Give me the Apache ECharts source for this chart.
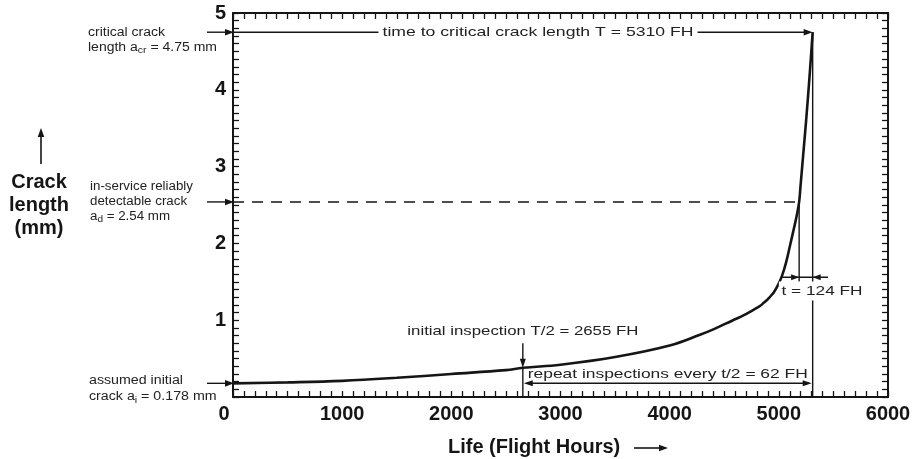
<!DOCTYPE html>
<html><head><meta charset="utf-8">
<script src="https://cdn.jsdelivr.net/npm/echarts@6/dist/echarts.min.js"></script>
<style>html,body{margin:0;padding:0;background:#fff}#c{width:916px;height:459px}</style>
</head><body><div id="c"></div>
<script>
// ---- data ----
const flightHours = [0, 500, 1000, 1500, 2000, 2500, 2655, 3000, 3500, 4000, 4278, 4400, 4580, 4680, 4763, 4827, 4864, 4892, 4910, 4928, 4956, 4992, 5029, 5066, 5102, 5139, 5165, 5186, 5200, 5220, 5250, 5280, 5310];
const crackLength = [0.178, 0.19, 0.21, 0.25, 0.30, 0.35, 0.38, 0.42, 0.52, 0.67, 0.81, 0.88, 1.0, 1.065, 1.131, 1.185, 1.229, 1.263, 1.29, 1.318, 1.368, 1.457, 1.577, 1.749, 1.97, 2.2, 2.37, 2.54, 2.77, 3.1, 3.6, 4.15, 4.75];
const xTickValues = [0, 1000, 2000, 3000, 4000, 5000, 6000];
const yTickValues = [1, 2, 3, 4, 5];
const criticalCrack = 4.75;      // a_cr
const detectableCrack = 2.54;    // a_d
const initialCrack = 0.178;      // a_i
const criticalTime = 5310;       // T
const initialInspection = 2655;  // T/2
const detectTime = 5186;         // T - t
const inspectionInterval = 124;  // t

const INK = '#151515';
const FONT = '"Liberation Sans", Arial, Helvetica, sans-serif';

const chart = echarts.init(document.getElementById('c'), null, {renderer: 'canvas'});

function xAxisDef(pos, showLabel) {
  return {
    type: 'value', position: pos, min: 0, max: 6000, interval: 1000,
    axisLine: {show: true, onZero: false, lineStyle: {color: INK, width: 2}},
    axisTick: {show: true, inside: true, length: 6, lineStyle: {color: INK, width: 1.3}},
    minorTick: {show: true, splitNumber: 10, length: 6, lineStyle: {color: INK, width: 1.3}},
    splitLine: {show: false}, minorSplitLine: {show: false},
    axisLabel: showLabel ? {
      show: true, color: INK, fontFamily: FONT, fontWeight: 'bold', fontSize: 20, margin: 7,
      formatter: v => v === 0 ? '{z|0}' : (xTickValues.indexOf(v) >= 0 ? String(v) : ''),
      rich: {z: {fontFamily: FONT, fontWeight: 'bold', fontSize: 20, color: INK, padding: [0, 18, 0, 0]}}
    } : {show: false}
  };
}
function yAxisDef(pos, showLabel) {
  return {
    type: 'value', position: pos, min: 0, max: 5, interval: 1,
    axisLine: {show: true, onZero: false, lineStyle: {color: INK, width: 2}},
    axisTick: {show: true, inside: true, length: 6, lineStyle: {color: INK, width: 1.3}},
    minorTick: {show: true, splitNumber: 10, length: 6, lineStyle: {color: INK, width: 1.3}},
    splitLine: {show: false}, minorSplitLine: {show: false},
    axisLabel: showLabel ? {
      show: true, color: INK, fontFamily: FONT, fontWeight: 'bold', fontSize: 20, margin: 7,
      formatter: v => yTickValues.indexOf(v) >= 0 ? String(v) : ''
    } : {show: false}
  };
}

chart.setOption({
  animation: false,
  backgroundColor: '#ffffff',
  grid: {left: 233, right: 28, top: 13, bottom: 62, containLabel: false},
  xAxis: [xAxisDef('bottom', true), xAxisDef('top', false)],
  yAxis: [yAxisDef('left', true), yAxisDef('right', false)],
  series: [{
    type: 'line', xAxisIndex: 0, yAxisIndex: 0,
    data: flightHours.map((h, i) => [h, crackLength[i]]),
    showSymbol: false, smooth: 0.4,
    lineStyle: {color: INK, width: 2.6}, z: 5
  }]
});

// ---- annotations, positioned through the chart's own scales ----
const P = (x, y) => chart.convertToPixel({seriesIndex: 0}, [x, y]);
const gx = v => P(v, 0)[0];
const gy = v => P(0, v)[1];

const mctx = document.createElement('canvas').getContext('2d');
function tw(s, size, weight) {
  mctx.font = (weight || 'normal') + ' ' + size + 'px "Liberation Sans"';
  return mctx.measureText(s).width;
}

function seg(x1, y1, x2, y2, w, dash) {
  return {type: 'line', silent: true, z: 50,
    shape: {x1, y1, x2, y2},
    style: {stroke: INK, lineWidth: w || 1.4, lineDash: dash || null}};
}
function head(x, y, dx, dy, L, W) {
  L = L || 9; W = W || 3.3;
  const bx = x - dx * L, by = y - dy * L, nx = -dy, ny = dx;
  return {type: 'polygon', silent: true, z: 51,
    shape: {points: [[x, y], [bx + nx * W, by + ny * W], [bx - nx * W, by - ny * W]]},
    style: {fill: INK}};
}
function txt(text, x, y, o) {
  o = o || {};
  return {type: 'text', silent: true, z: 60, x: x, y: y, scaleX: o.scaleX || 1,
    style: {
      text: text, fill: o.fill || '#222', fontFamily: FONT,
      fontSize: o.size || 12, fontWeight: o.weight || 'normal',
      align: o.align || 'left', verticalAlign: o.valign || 'middle',
      lineHeight: o.lh || 15,
      backgroundColor: o.bg || null, padding: o.pad || 0,
      rich: o.rich || {}
    }};
}

const x0 = gx(0), xT = gx(criticalTime), xD = gx(detectTime), xI = gx(initialInspection);
const yBase = gy(0);
const yCr = gy(criticalCrack), yDt = gy(detectableCrack), yIn = gy(initialCrack);
const curveAtI = crackLength[flightHours.indexOf(initialInspection)];
const yCurveI = gy(curveAtI);

const els = [];
// pointers from labels to the crack-length axis
[yCr, yDt, yIn].forEach(y => { els.push(seg(x0 - 26, y, x0 - 6, y)); els.push(head(x0 + 1, y, 1, 0)); });
// time to critical crack length
els.push(seg(x0, yCr, xT - 5, yCr));
els.push(head(xT, yCr, 1, 0));
// detectable crack dashed line
els.push(seg(x0, yDt, xD, yDt, 1.6, [11, 8]));
// vertical at T
els.push(seg(xT, yCr, xT, yBase));
// vertical at detection
els.push(seg(xD, yDt, xD, gy(1.5)));
// t interval arrows
const yt = gy(1.56);
els.push(seg(gx(5029), yt, gx(5450), yt));
els.push(head(xD, yt, 1, 0, 8, 3));
els.push(head(xT, yt, -1, 0, 8, 3));
// initial inspection arrow and line
els.push(seg(xI, gy(0.70), xI, yCurveI - 4));
els.push(head(xI, yCurveI, 0, 1, 9, 3));
els.push(seg(xI, yCurveI, xI, yBase));
// repeat inspection arrow
const yr = gy(0.18);
els.push(seg(xI + 4, yr, xT - 4, yr));
els.push(head(xI + 1, yr, -1, 0, 9, 3));
els.push(head(xT - 1, yr, 1, 0, 9, 3));

const sub = {s: {fontSize: 9, fontFamily: FONT, fill: '#222', verticalAlign: 'bottom'}};
// left labels
els.push(txt('critical crack\nlength a{s|cr} = 4.75 mm', 88, yCr - 7, {valign: 'top', lh: 15, rich: sub, scaleX: 77 / tw('critical crack', 12)}));
els.push(txt('in-service reliably\ndetectable crack\na{s|d} = 2.54 mm', 90, yDt - 23, {valign: 'top', lh: 15, rich: sub, scaleX: 103 / tw('in-service reliably', 12)}));
els.push(txt('assumed initial\ncrack a{s|i} = 0.178 mm', 89, yIn - 11, {valign: 'top', lh: 16.5, rich: sub, scaleX: 94 / tw('assumed initial', 12)}));
// inner labels
const sD = 'time to critical crack length T = ' + criticalTime + ' FH';
els.push(txt(sD, 538, yCr, {align: 'center', size: 13, scaleX: 311 / tw(sD, 13), bg: '#fff', pad: [2, 3]}));
const sE = 't = ' + inspectionInterval + ' FH';
els.push(txt(sE, 822, gy(1.38), {align: 'center', size: 13, scaleX: 81 / tw(sE, 13), bg: '#fff', pad: [2, 2]}));
const sF = 'initial inspection T/2 = ' + initialInspection + ' FH';
els.push(txt(sF, xI, gy(0.86), {align: 'center', size: 13, scaleX: 231 / tw(sF, 13)}));
const sG = 'repeat inspections every t/2 = ' + (inspectionInterval / 2) + ' FH';
els.push(txt(sG, (xI + xT) / 2, gy(0.29), {align: 'center', size: 13, scaleX: 280 / tw(sG, 13)}));
// axis titles
els.push(txt('Crack\nlength\n(mm)', 39, 182 - 11.5, {align: 'center', valign: 'top', size: 20, weight: 'bold', lh: 23, fill: INK}));
els.push(seg(41, 164, 41, 136, 1.6));
els.push(head(41, 128, 0, -1, 9, 3.3));
els.push(txt('Life (Flight Hours)', 448, 447, {size: 20, weight: 'bold', fill: INK}));
els.push(seg(634, 448, 660, 448, 1.6));
els.push(head(668, 448, 1, 0, 9, 3.3));

chart.setOption({graphic: {elements: els}});
</script>
</body></html>
